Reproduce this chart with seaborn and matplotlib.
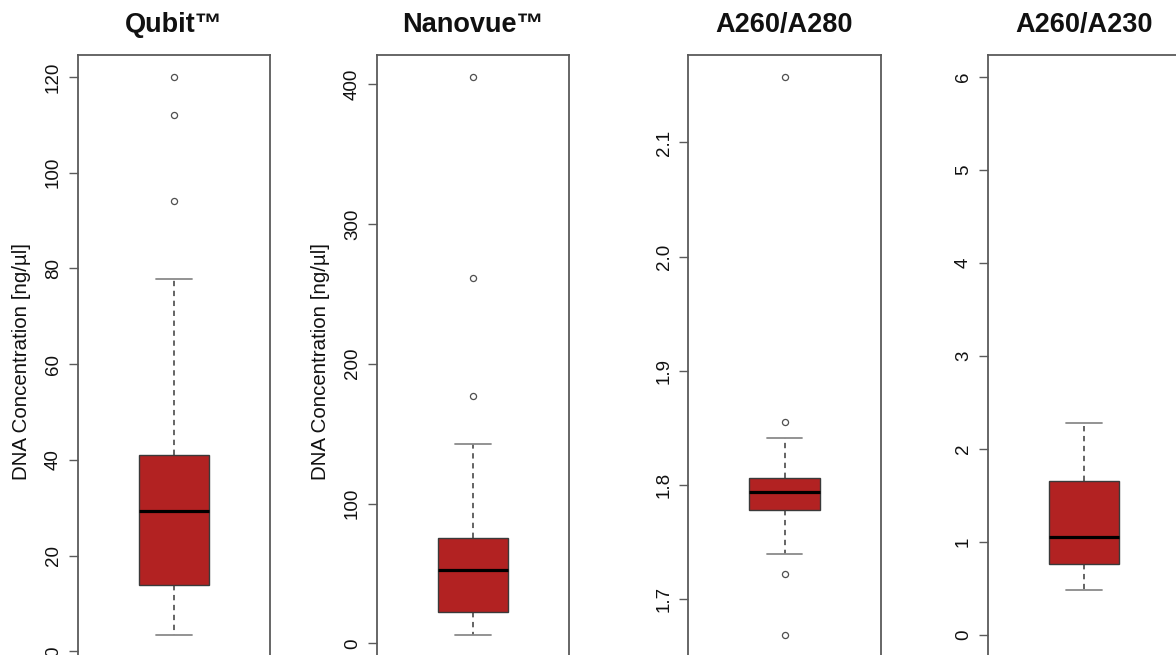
import numpy as np
import pandas as pd
import matplotlib
matplotlib.use("Agg")
import matplotlib.pyplot as plt
import seaborn as sns

# ---- data ----
titles = ["Qubit\u2122", "Nanovue\u2122", "A260/A280", "A260/A230"]
ylabels = ["DNA Concentration [ng/\u00b5l]", "DNA Concentration [ng/\u00b5l]", "", ""]

qubit = [3.5, 6.8, 9.6, 12.0, 13.9, 17.8, 22.0, 25.9, 29.3, 32.8, 36.0, 38.9, 41.0,
         77.7, 94.0, 112.0, 120.0]
nanovue = [6.3, 11.0, 15.5, 19.5, 22.7, 30.0, 38.5, 46.0, 52.7, 58.0, 63.5, 69.5, 75.1,
           142.4, 177.1, 261.2, 405.1]
a260_280 = [1.669, 1.7225, 1.7400, 1.7600, 1.7785, 1.7830, 1.7870, 1.7910, 1.7942,
            1.7970, 1.8000, 1.8030, 1.8062, 1.8200, 1.8415, 1.8549, 2.1575]
a260_230 = [0.48, 0.55, 0.62, 0.70, 0.765, 0.84, 0.92, 0.99, 1.053, 1.17, 1.32, 1.50,
            1.652, 1.80, 1.95, 2.10, 2.273]
datasets = [qubit, nanovue, a260_280, a260_230]

yticks = [[0, 20, 40, 60, 80, 100, 120],
          [0, 100, 200, 300, 400],
          [1.7, 1.8, 1.9, 2.0, 2.1],
          [0, 1, 2, 3, 4, 5, 6]]
ytick_labels = [["0", "20", "40", "60", "80", "100", "120"],
                ["0", "100", "200", "300", "400"],
                ["1.7", "1.8", "1.9", "2.0", "2.1"],
                ["0", "1", "2", "3", "4", "5", "6"]]
fixed_ranges = [None, None, None, (0, 6)]

# ---- style ----
sns.set_style("white")
plt.rcParams["font.family"] = ["Liberation Sans", "DejaVu Sans"]

W, H = 1176, 655
fig = plt.figure(figsize=(W / 100, H / 100), dpi=100)

lefts_px = [77.7, 376.7, 688.3, 987.7]
width_px = 192.5
top_px, bottom_px = 54.5, 657.0

frame_col = "#5a5a5a"
box_w = 0.367

for i, data in enumerate(datasets):
    ax = fig.add_axes([lefts_px[i] / W, (H - bottom_px) / H,
                       width_px / W, (bottom_px - top_px) / H])
    df = pd.DataFrame({"value": data})
    sns.boxplot(data=df, y="value", ax=ax, width=box_w, color="#B22222",
                saturation=1, linewidth=1.0, linecolor="#2a2a2a",
                whis=1.5, capwidths=box_w / 2,
                boxprops=dict(edgecolor="#3a3a3a", linewidth=1.0),
                whiskerprops=dict(color="#3a3a3a", linestyle=(0, (3.5, 3)), linewidth=1.1),
                capprops=dict(color="#8a8a8a", linewidth=1.3),
                medianprops=dict(color="black", linewidth=2.3),
                flierprops=dict(marker="o", markerfacecolor="none",
                                markeredgecolor="#505050", markersize=4.4,
                                markeredgewidth=0.9))
    # R-style axis range: data range expanded by 4%
    if fixed_ranges[i] is None:
        lo, hi = min(data), max(data)
    else:
        lo, hi = fixed_ranges[i]
    pad = 0.04 * (hi - lo)
    ax.set_ylim(lo - pad, hi + pad)
    ax.set_xlim(-0.5, 0.5)
    ax.set_xticks([])
    ax.set_xlabel("")
    ax.set_yticks(yticks[i])
    ax.set_yticklabels(ytick_labels[i], rotation=90, va="center", fontsize=13.5)
    ax.tick_params(axis="y", left=True, length=6.8, width=1.0, color=frame_col,
                   pad=4.5, labelcolor="#111111")
    for sp in ax.spines.values():
        sp.set_visible(True)
        sp.set_color(frame_col)
        sp.set_linewidth(1.3)
    ax.set_title(titles[i], fontsize=19.5, fontweight="bold", pad=16, color="#111111")
    if ylabels[i]:
        ax.set_ylabel(ylabels[i], fontsize=14.8, color="#111111", va="center")
        ax.yaxis.set_label_coords(-56.0 / width_px, (bottom_px - 361) / (bottom_px - top_px))
    else:
        ax.set_ylabel("")

fig.savefig("out.png", dpi=100)
